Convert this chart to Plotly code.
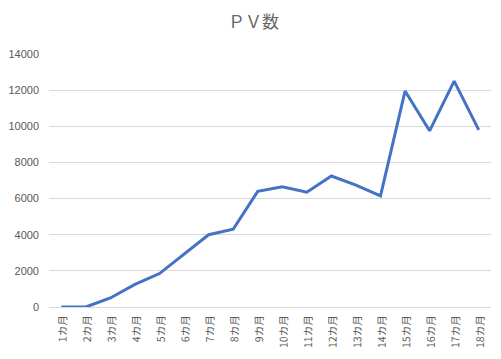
import plotly.graph_objects as go

categories = [f"{i}カ月" for i in range(1, 19)]
pv = [0, 0, 500, 1250, 1850, 2900, 4000, 4300, 6400, 6650, 6350, 7250, 6750, 6150, 11950, 9750, 12500, 9800]
y_ticks = [0, 2000, 4000, 6000, 8000, 10000, 12000, 14000]
y_tick_text = [str(v) for v in y_ticks]

xidx = list(range(len(categories)))

fig = go.Figure(go.Scatter(
    x=xidx, y=pv, mode="lines",
    line=dict(color="#4472C4", width=3),
    hoverinfo="skip"
))

fig.update_layout(
    width=501, height=359,
    margin=dict(l=41, r=18, t=46, b=60, autoexpand=False),
    paper_bgcolor="white", plot_bgcolor="white",
    showlegend=False,
    title=dict(text="ＰＶ数", x=0.49, xanchor="center", y=0.962, yanchor="middle",
               font=dict(family="Noto Sans CJK JP", size=17, color="#666666")),
    font=dict(family="Noto Sans CJK JP", color="#595959", size=10),
    xaxis=dict(
        range=[-0.5, len(categories) - 0.5], tickvals=xidx, ticktext=categories,
        tickangle=-89.9, showgrid=False, zeroline=False, automargin=False,
        showline=True, linecolor="#D9D9D9", linewidth=1,
        ticks="", tickfont=dict(size=10.5, color="#595959"),
    ),
    yaxis=dict(
        range=[0, 14000], tickvals=y_ticks, ticktext=y_tick_text,
        showgrid=True, gridcolor="#D9D9D9", automargin=False,
        zeroline=True, zerolinecolor="#D9D9D9", ticks="", ticklabelstandoff=9,
        tickfont=dict(family="Liberation Sans", size=11, color="#595959"),
        showline=False,
    ),
)

fig.write_html("out.html")
